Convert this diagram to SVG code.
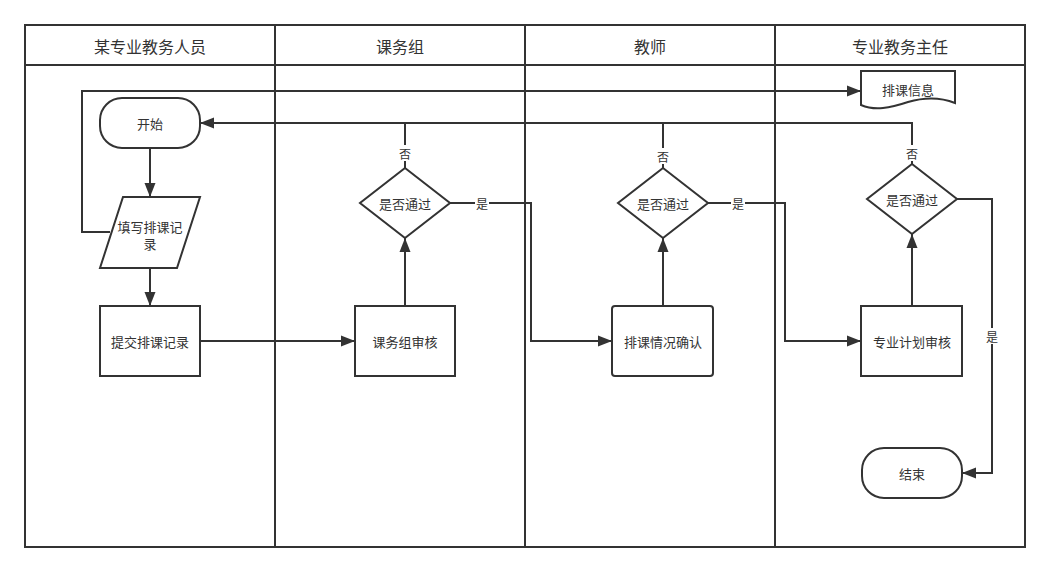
<svg xmlns="http://www.w3.org/2000/svg" width="1050" height="573" viewBox="0 0 1050 573">
<style>
.ln{fill:none;stroke:#333;stroke-width:2}
.sh{fill:#fff;stroke:#333;stroke-width:2}
.t{font-family:"Noto Sans CJK SC","Liberation Sans",sans-serif;font-size:13px;fill:#333;text-anchor:middle;dominant-baseline:central}
.h{font-size:16px}
.lbl{font-family:"Noto Sans CJK SC","Liberation Sans",sans-serif;font-size:12px;fill:#333;text-anchor:middle;dominant-baseline:central}
</style>
<defs>
<marker id="a" viewBox="0 0 14 12" refX="14" refY="6" markerWidth="14" markerHeight="12" markerUnits="userSpaceOnUse" orient="auto">
<path d="M0,0.5 L14,6 L0,11.5 Z" fill="#333"/>
</marker>
</defs>
<rect width="1050" height="573" fill="#fff"/>
<g id="lanes">
<rect x="25" y="25" width="1000" height="522" class="ln"/>
<line x1="25" y1="65" x2="1025" y2="65" class="ln"/>
<line x1="275" y1="25" x2="275" y2="547" class="ln"/>
<line x1="525" y1="25" x2="525" y2="547" class="ln"/>
<line x1="775" y1="25" x2="775" y2="547" class="ln"/>
<text x="150" y="46" class="t h">某专业教务人员</text>
<text x="400" y="46" class="t h">课务组</text>
<text x="650" y="46" class="t h">教师</text>
<text x="900" y="46" class="t h">专业教务主任</text>
</g>
<g id="connectors">
<path d="M150,148 V197" class="ln" marker-end="url(#a)"/>
<path d="M150,268 V306" class="ln" marker-end="url(#a)"/>
<path d="M110,232 H82 V91 H861" class="ln" marker-end="url(#a)"/>
<path d="M200,341 H355" class="ln" marker-end="url(#a)"/>
<path d="M405,306 V238" class="ln" marker-end="url(#a)"/>
<path d="M405,168 V123" class="ln"/>
<path d="M663,168 V123" class="ln"/>
<path d="M912,164 V123 H200" class="ln" marker-end="url(#a)"/>
<path d="M450,203 H531 V341 H612" class="ln" marker-end="url(#a)"/>
<path d="M663,306 V238" class="ln" marker-end="url(#a)"/>
<path d="M708,203 H785 V341 H861" class="ln" marker-end="url(#a)"/>
<path d="M912,306 V234" class="ln" marker-end="url(#a)"/>
<path d="M957,199 H992 V473 H962" class="ln" marker-end="url(#a)"/>
<g>
<rect x="398" y="145" width="14" height="16" fill="#fff"/>
<text x="405" y="153" class="lbl">否</text>
<rect x="656" y="148" width="14" height="16" fill="#fff"/>
<text x="663" y="156" class="lbl">否</text>
<rect x="905" y="145" width="14" height="16" fill="#fff"/>
<text x="912" y="153" class="lbl">否</text>
<rect x="475" y="195" width="14" height="16" fill="#fff"/>
<text x="482" y="203" class="lbl">是</text>
<rect x="731" y="195" width="14" height="16" fill="#fff"/>
<text x="738" y="203" class="lbl">是</text>
<rect x="985" y="328" width="14" height="16" fill="#fff"/>
<text x="992" y="336" class="lbl">是</text>
</g>
</g>
<g id="start">
<rect x="100" y="98" width="100" height="50" rx="22" ry="22" class="sh"/>
<text x="150" y="123" class="t">开始</text>
</g>
<g id="fill-record">
<path d="M123,197 H200 L177,268 H100 Z" class="sh"/>
<text x="150" y="226" class="t">填写排课记</text>
<text x="150" y="243" class="t">录</text>
</g>
<g id="submit-record">
<rect x="100" y="306" width="100" height="70" class="sh"/>
<text x="150" y="341" class="t">提交排课记录</text>
</g>
<g id="schedule-info">
<path d="M861,71 H955 V103 C940,97 925,97 908,102 C890,108 875,111 861,105 Z" class="sh"/>
<text x="908" y="89" class="t">排课信息</text>
</g>
<g id="group-review">
<rect x="355" y="306" width="100" height="70" class="sh"/>
<text x="405" y="341" class="t">课务组审核</text>
</g>
<g id="decision1">
<path d="M405,168 L450,203 L405,238 L360,203 Z" class="sh"/>
<text x="405" y="203" class="t">是否通过</text>
</g>
<g id="teacher-confirm">
<rect x="612" y="306" width="101" height="70" rx="3" ry="3" class="sh"/>
<text x="663" y="341" class="t">排课情况确认</text>
</g>
<g id="decision2">
<path d="M663,168 L708,203 L663,238 L618,203 Z" class="sh"/>
<text x="663" y="203" class="t">是否通过</text>
</g>
<g id="plan-review">
<rect x="861" y="306" width="101" height="70" class="sh"/>
<text x="912" y="341" class="t">专业计划审核</text>
</g>
<g id="decision3">
<path d="M912,164 L957,199 L912,234 L867,199 Z" class="sh"/>
<text x="912" y="199" class="t">是否通过</text>
</g>
<g id="end">
<rect x="862" y="448" width="100" height="50" rx="22" ry="22" class="sh"/>
<text x="912" y="473" class="t">结束</text>
</g>
</svg>
